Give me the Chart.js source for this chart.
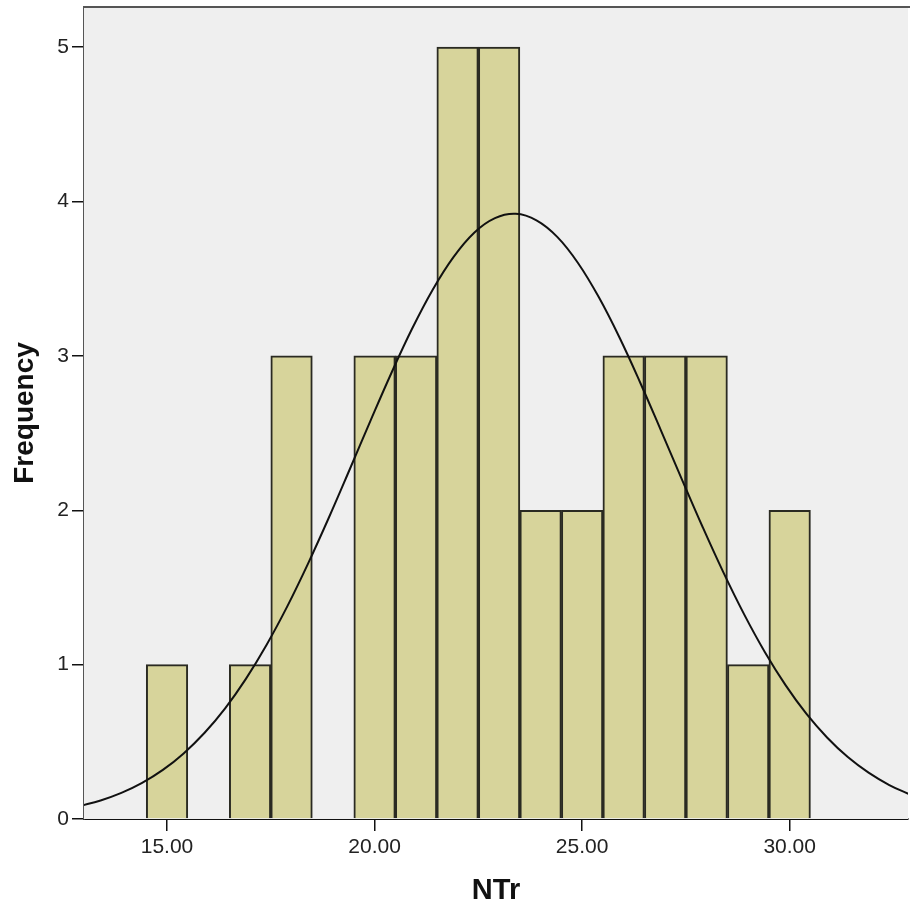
<!DOCTYPE html>
<html>
<head>
<meta charset="utf-8">
<title>NTr histogram</title>
<script src="https://cdn.jsdelivr.net/npm/chart.js@4/dist/chart.umd.min.js"></script>
<style>
  html, body { margin: 0; padding: 0; background: #fff; }
  #wrap { width: 910px; height: 911px; }
</style>
</head>
<body>
<div id="wrap"><canvas id="hist" width="910" height="911"></canvas></div>
<script>
// Histogram bins (bin centre) and frequencies
const binCenters = [15, 17, 18, 20, 21, 22, 23, 24, 25, 26, 27, 28, 29, 30];
const frequencies = [1, 1, 3, 3, 3, 5, 5, 2, 2, 3, 3, 3, 1, 2];

// Normal curve
const curveX = [12.9, 13.4, 13.9, 14.4, 14.9, 15.4, 15.9, 16.4, 16.9, 17.4, 17.9, 18.4, 18.9, 19.4,
  19.9, 20.4, 20.9, 21.4, 21.9, 22.4, 22.9, 23.4, 23.9, 24.4, 24.9, 25.4, 25.9, 26.4, 26.9, 27.4,
  27.9, 28.4, 28.9, 29.4, 29.9, 30.4, 30.9, 31.4, 31.9, 32.4, 32.9];
const curveY = [0.084, 0.120, 0.169, 0.234, 0.318, 0.425, 0.557, 0.717, 0.908, 1.129, 1.379, 1.656,
  1.953, 2.264, 2.579, 2.886, 3.174, 3.429, 3.640, 3.798, 3.892, 3.920, 3.878, 3.771, 3.602, 3.381,
  3.119, 2.826, 2.516, 2.202, 1.893, 1.599, 1.327, 1.082, 0.867, 0.682, 0.528, 0.401, 0.300, 0.220, 0.158];

const xTicks = [15, 20, 25, 30];
const xTickLabels = ['15.00', '20.00', '25.00', '30.00'];
const yTicks = [0, 1, 2, 3, 4, 5];

const FONT = 'Liberation Sans, Arial, sans-serif';

// light grey plot background plus the top frame line
const plotFrame = {
  id: 'plotFrame',
  beforeDatasetsDraw(chart) {
    const { ctx, chartArea: a } = chart;
    ctx.save();
    ctx.fillStyle = '#efefef';
    ctx.fillRect(a.left, a.top, a.right - a.left, a.bottom - a.top);
    ctx.restore();
  },
  afterDraw(chart) {
    const { ctx, chartArea: a } = chart;
    ctx.save();
    ctx.strokeStyle = '#555';
    ctx.lineWidth = 2;
    ctx.beginPath();
    ctx.moveTo(a.left, a.top);
    ctx.lineTo(a.right + 2, a.top);
    ctx.stroke();
    ctx.restore();
  }
};

new Chart(document.getElementById('hist'), {
  data: {
    datasets: [
      {
        type: 'line',
        data: curveX.map((x, i) => ({ x: x, y: curveY[i] })),
        borderColor: '#111',
        borderWidth: 2,
        pointRadius: 0,
        tension: 0.4,
        fill: false,
        order: 0
      },
      {
        type: 'bar',
        data: binCenters.map((x, i) => ({ x: x, y: frequencies[i] })),
        backgroundColor: '#d7d49b',
        borderColor: '#2a2a22',
        borderWidth: 2,
        barPercentage: 1,
        categoryPercentage: 1,
        order: 1
      }
    ]
  },
  options: {
    responsive: false,
    animation: false,
    events: [],
    layout: { padding: { top: 7, right: 2, left: 0, bottom: 0 } },
    plugins: { legend: { display: false }, tooltip: { enabled: false } },
    scales: {
      x: {
        type: 'linear',
        min: 13.0,
        max: 32.85,
        offset: false,
        afterBuildTicks: s => { s.ticks = xTicks.map(v => ({ value: v })); },
        afterFit: s => { s.height = 92; s.paddingLeft = 0; s.paddingRight = 0; },
        grid: { offset: false, drawOnChartArea: false, drawTicks: true, tickLength: 12, color: '#111', lineWidth: 1.5 },
        border: { display: true, color: '#111', width: 2 },
        ticks: {
          padding: 4,
          color: '#222',
          font: { family: FONT, size: 21 },
          maxRotation: 0,
          callback: (v) => xTickLabels[xTicks.indexOf(v)]
        },
        title: {
          display: true,
          text: 'NTr',
          color: '#111',
          font: { family: FONT, size: 29, weight: 'bold' },
          padding: { top: 0, bottom: 3 }
        }
      },
      y: {
        type: 'linear',
        min: 0,
        max: 5.26,
        afterBuildTicks: s => { s.ticks = yTicks.map(v => ({ value: v })); },
        afterFit: s => { s.width = 84; s.paddingTop = 0; s.paddingBottom = 0; },
        grid: { drawOnChartArea: false, drawTicks: true, tickLength: 12, color: '#111', lineWidth: 1.5 },
        border: { display: true, color: '#555', width: 2 },
        ticks: {
          padding: 3,
          color: '#222',
          font: { family: FONT, size: 21 }
        },
        title: {
          display: true,
          text: 'Frequency',
          color: '#111',
          font: { family: FONT, size: 28, weight: 'bold' },
          padding: { top: 8, bottom: 0 }
        }
      }
    }
  },
  plugins: [plotFrame]
});
</script>
</body>
</html>
